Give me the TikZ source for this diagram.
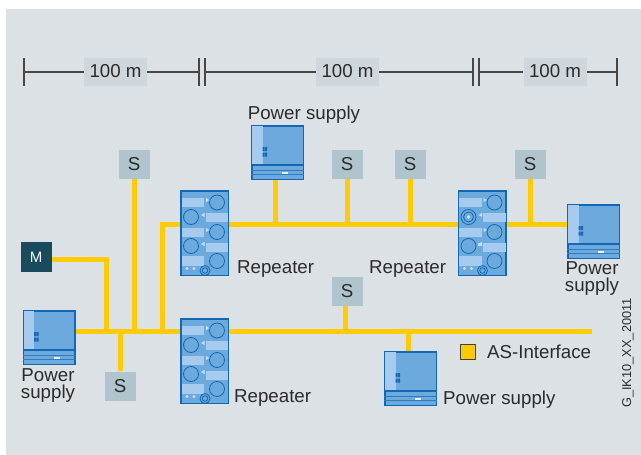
\documentclass[tikz,border=0pt]{standalone}
\usepackage{fontspec}
\setmainfont{Liberation Sans}
\usetikzlibrary{positioning, calc}
\definecolor{bgray}{HTML}{DCE1E5}
\definecolor{lblgray}{HTML}{CFD6DC}
\definecolor{sgray}{HTML}{AFC4CC}
\definecolor{mteal}{HTML}{1A4A5E}
\definecolor{busy}{HTML}{FFCB05}
\definecolor{devblue}{HTML}{6CA9DD}
\definecolor{devline}{HTML}{1268B3}
\definecolor{devpale}{HTML}{A6CBEE}
\definecolor{txt}{HTML}{2B2B2B}

% repeater: name, centre x, centre y
\newcommand{\repeater}[3]{
  \node[repbody] (#1) at (#2,#3) {};
  \begin{scope}[shift={(#1.north west)}]
    \foreach \xa/\ya in {1.5/7.5, 25.5/22.5, 1.5/37.5, 25.5/52.5, 1.5/66}
      \fill[devpale] (\xa,\ya) rectangle ++(22.5,9.5);
    \foreach \xa/\ya in {37/12.5, 11/27, 37/42, 11/56, 37/71}
      \draw[devline, line width=.8pt] (\xa,\ya) circle (7.5);
    \foreach \xa/\ya in {26/10, 26/40}
      \fill[devpale!60!white] (\xa,\ya-2) -- ++(3.5,2) -- ++(-3.5,2) -- cycle;
    \foreach \xa/\ya in {24.5/25, 24.5/54}
      \fill[devpale!60!white] (\xa,\ya-2) -- ++(-3.5,2) -- ++(3.5,2) -- cycle;
    \fill[devpale!60!white] (7,78.5) circle (1.6) (14,78.5) circle (1.6);
    \draw[devline, line width=.8pt] (25,80.5) circle (5) (25,80.5) circle (2.8);
  \end{scope}
}
% power supply: name, centre x, centre y
\newcommand{\powerbox}[3]{
  \node[psbody] (#1) at (#2,#3) {};
  \begin{scope}[shift={(#1.north west)}]
    \fill[devpale] (1,1) rectangle (11.5,39);
    \draw[devline, line width=1.6pt] (0,40) -- (53,40);
    \draw[devline!70!devblue, line width=.7pt] (0,45) -- (53,45) (0,49.5) -- (53,49.5);
    \fill[devline] (11.5,22) rectangle ++(2,4) (14,22) rectangle ++(2,4)
                   (11.5,27.5) rectangle ++(2,4) (14,27.5) rectangle ++(2,4);
    \fill[white!85!devblue] (31,46.5) rectangle ++(6,2.2);
  \end{scope}
}

\begin{document}
\begin{tikzpicture}[
  x=1pt, y=-1pt,
  every node/.style={font=\fontsize{18.7}{17}\selectfont, text=txt},
  repbody/.style={rectangle, draw=devline, fill=devblue, line width=1.5pt,
                  minimum width=47.5pt, minimum height=84.5pt, inner sep=0pt},
  psbody/.style={rectangle, draw=devline, fill=devblue, line width=1.5pt,
                 minimum width=51.5pt, minimum height=53.5pt, inner sep=0pt},
  sbox/.style={rectangle, fill=sgray, minimum width=31pt, minimum height=29pt, inner sep=0pt},
  mbox/.style={rectangle, fill=mteal, minimum width=31pt, minimum height=30pt, inner sep=0pt,
               font=\fontsize{15}{15}\selectfont, text=white},
  lenlbl/.style={rectangle, fill=lblgray, minimum width=63pt, minimum height=28pt, inner sep=0pt,
                 text depth=3pt},
  lbl/.style={inner sep=0pt, anchor=west},
  lblc/.style={inner sep=0pt, align=center},
  dim/.style={line width=1.1pt, draw=black!72},
  bus/.style={line width=5pt, draw=busy}
]
\useasboundingbox (0,0) rectangle (641,455);
\fill[bgray] (6,9) rectangle (641,455);

% length scale
\coordinate (d0) at (24,72);
\coordinate (d1) at (199,72);
\coordinate (d2) at (205,72);
\coordinate (d3) at (473,72);
\coordinate (d4) at (479,72);
\coordinate (d5) at (617,72);
\node[lenlbl] (len1) at (115.5,72) {100 m};
\node[lenlbl] (len2) at (347.5,72) {100 m};
\node[lenlbl] (len3) at (555,72) {100 m};
\draw[dim] (d0) -- (len1) (len1) -- (d1);
\draw[dim] (d2) -- (len2) (len2) -- (d3);
\draw[dim] (d4) -- (len3) (len3) -- (d5);
\foreach \dn in {d0,d1,d2,d3,d4,d5}
  \draw[dim] ($(\dn)+(0,-14)$) -- ($(\dn)+(0,14)$);

% devices
\repeater{rep1}{204.5}{233}
\repeater{rep2}{482}{233}
\repeater{rep3}{204.5}{361}
\powerbox{ps1}{277.5}{152.5}
\powerbox{ps2}{593.5}{231.5}
\powerbox{ps3}{49}{337.5}
\powerbox{ps4}{410.5}{378.5}

% status marks on the second repeater
\begin{scope}[shift={(rep2.north west)}]
  \fill[devpale!60!white] (11,27) circle (1.8);
  \draw[devline, line width=.8pt] (11,27) circle (5);
  \fill[devpale!60!white] (20.5,53) rectangle ++(3.5,3);
\end{scope}

\node[sbox] (s1) at (134,164) {S};
\node[sbox] (s2) at (347,164) {S};
\node[sbox] (s3) at (410,164) {S};
\node[sbox] (s4) at (530,164) {S};
\node[sbox] (s5) at (347,291) {S};
\node[sbox] (s6) at (120,386) {S};
\node[mbox] (m1) at (36,257) {M};

% bus junctions
\coordinate (tb) at (0,224);
\coordinate (mb) at (0,331);
\coordinate (je) at (592,331);
\coordinate (jc) at (162,331);
\coordinate (jm) at (106,331);
\coordinate (jp) at (275,224);
\coordinate (js) at (345,331);
\coordinate (jq) at (408,331);

% bus lines
\draw[bus] (ps3.east |- mb) -- (rep3.west |- mb);
\draw[bus] (rep3.east |- mb) -- (je);
\draw[bus] (s1.south) -- (s1.south |- mb);
\draw[bus] (s6.north) -- (s6.north |- mb);
\draw[bus, line join=miter] (m1.east |- 0,259) -| (jm);
\draw[bus, line join=miter] (jc) |- (rep1.west |- tb);
\draw[bus] (rep1.east |- tb) -- (rep2.west |- tb);
\draw[bus] (rep2.east |- tb) -- (ps2.west |- tb);
\draw[bus] (jp |- ps1.south) -- (jp);
\draw[bus] (s2.south) -- (s2.south |- tb);
\draw[bus] (s3.south) -- (s3.south |- tb);
\draw[bus] (s4.south) -- (s4.south |- tb);
\draw[bus] (js |- s5.south) -- (js);
\draw[bus] (jq |- ps4.north) -- (jq);

% labels
\node[lblc] (t1) at (304,114.5) {Power supply};
\node[lbl] (t2) at (237,269) {Repeater};
\node[lbl] (t3) at (369,269) {Repeater};
\node[lblc] (t4) at (592,279) {Power\\supply};
\node[lblc] (t5) at (48,385.5) {Power\\supply};
\node[lbl] (t6) at (234,398.5) {Repeater};
\node[lbl] (t7) at (443,399.5) {Power supply};
% legend
\node[rectangle, draw=black!75, fill=busy, line width=.9pt, minimum size=15pt, inner sep=0pt] (leg) at (467.5,352) {};
\node[lbl, right=11.5pt of leg] (t8) {AS-Interface};
\node[inner sep=0pt, rotate=90, font=\fontsize{12.8}{13}\selectfont] (t9) at (628,353) {G\_IK10\_XX\_20011};
\end{tikzpicture}
\end{document}
